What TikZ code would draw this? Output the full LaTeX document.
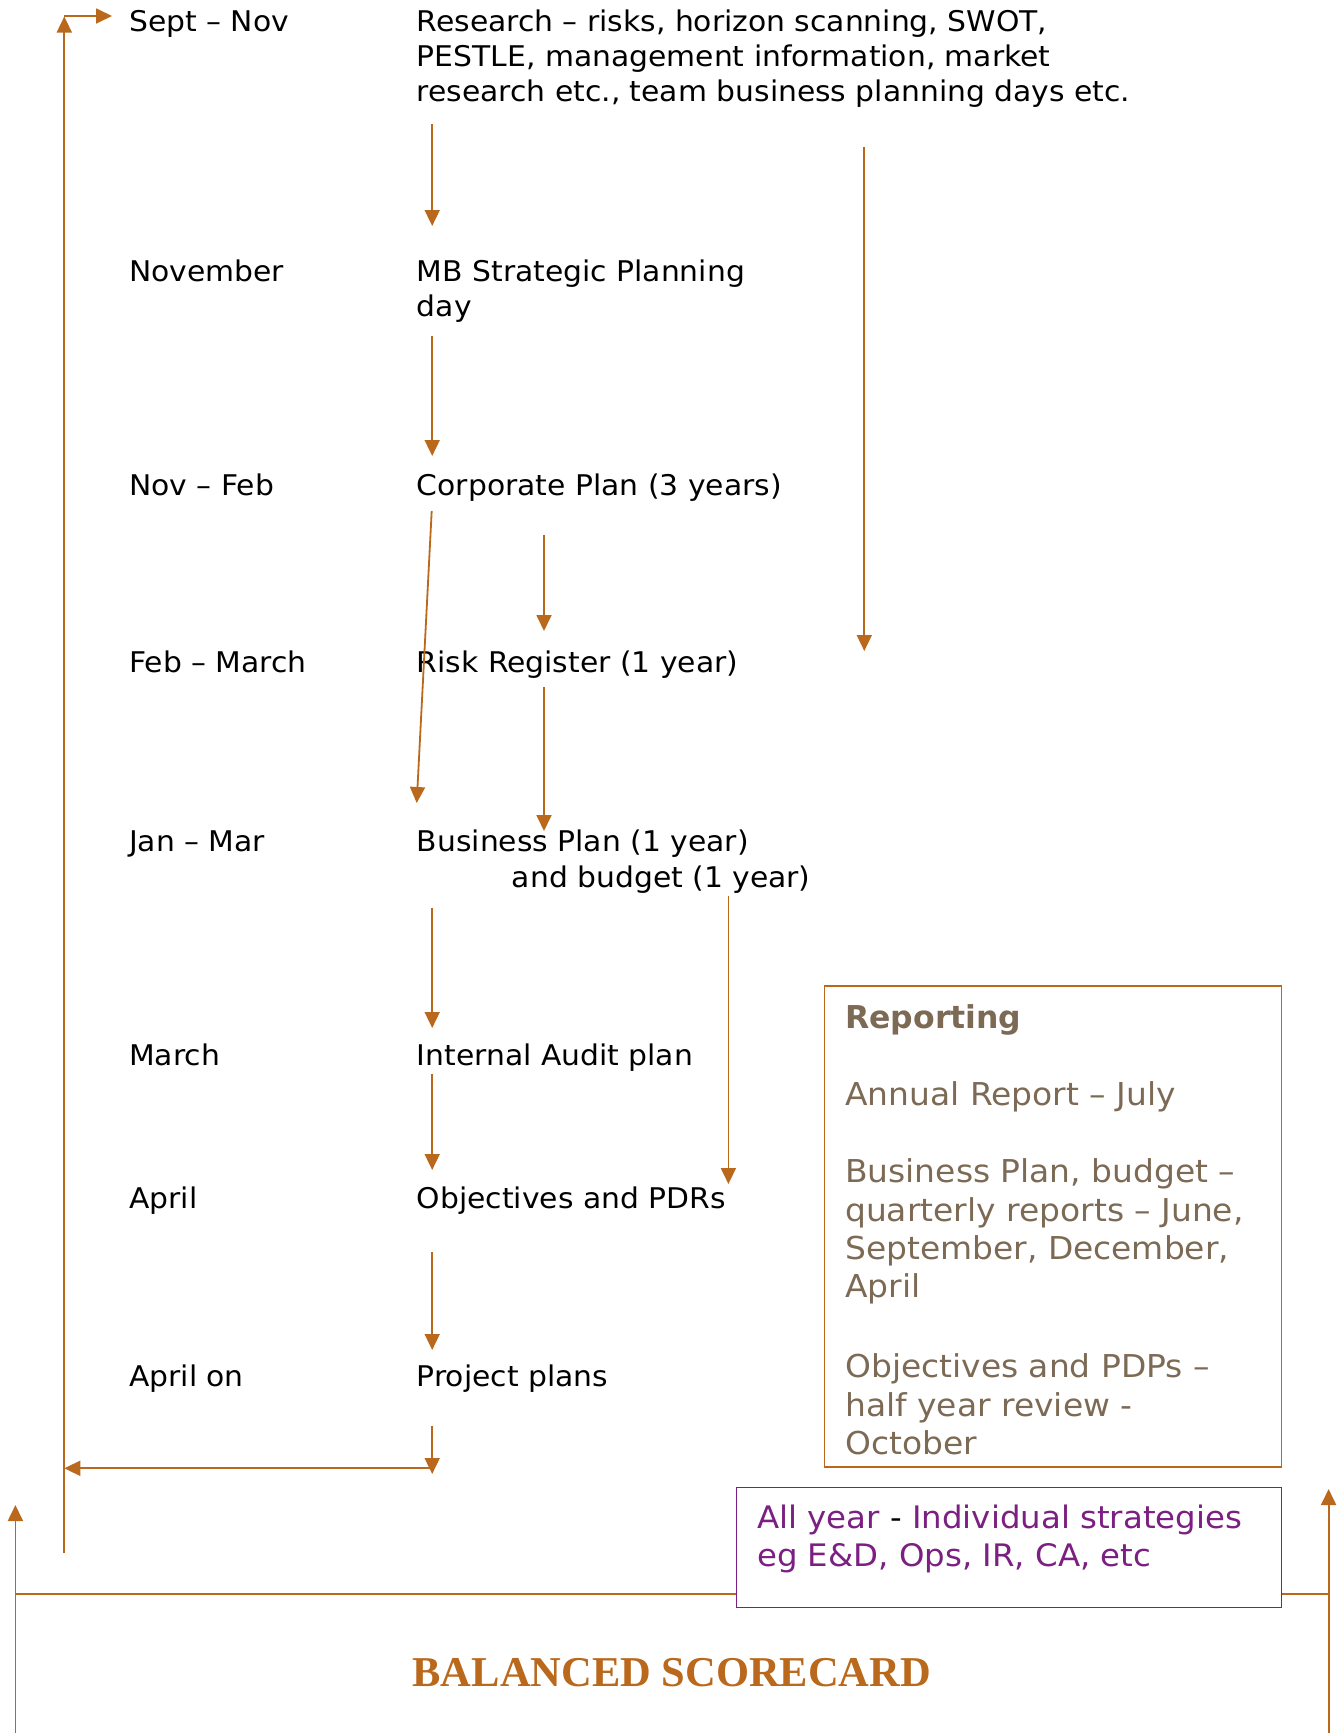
\documentclass[tikz,border=0pt]{standalone}
\usepackage{fontspec}
\setmainfont{DejaVu Sans}[FakeStretch=1.045]
\newfontfamily\plainsans{DejaVu Sans}
\newfontfamily\scfont{Liberation Serif}
\usetikzlibrary{arrows.meta}
\definecolor{ln}{RGB}{185,104,28}
\definecolor{rep}{RGB}{124,106,85}
\definecolor{purp}{RGB}{124,31,130}
\begin{document}
\begin{tikzpicture}[x=1pt,y=-1pt,
  conn/.style={draw=ln, line width=1.8pt, -{Triangle[length=16pt,width=15pt]}},
  plainln/.style={draw=ln, line width=1.8pt},
  lab/.style={anchor=base west, inner sep=0pt, font=\fontsize{28.5}{35}\selectfont},
  replab/.style={anchor=base west, inner sep=0pt, text=rep, font=\fontsize{31.5}{38.5}\selectfont},
  purlab/.style={anchor=base west, inner sep=0pt, text=purp, font=\fontsize{31}{38.5}\selectfont},
  repbox/.style={draw=ln, line width=1.7pt},
  purbox/.style={draw=purp, line width=1.7pt, fill=white}]
\useasboundingbox (0,0) rectangle (1344,1733);

% left column
\node[lab] (m1) at (129,31.6) {Sept – Nov};
\node[lab] (m2) at (129,281.4) {November};
\node[lab] (m3) at (129,495.8) {Nov – Feb};
\node[lab] (m4) at (129,672.7) {Feb – March};
\node[lab] (m5) at (129,851.7) {Jan – Mar};
\node[lab] (m6) at (129,1065) {March};
\node[lab] (m7) at (129,1208.7) {April};
\node[lab] (m8) at (129,1386.7) {April on};

% right column
\node[lab] (r1a) at (416.7,31.6) {Research – risks, horizon scanning, SWOT,};
\node[lab] (r1b) at (416.7,66.6) {PESTLE, management information, market};
\node[lab] (r1c) at (416.7,101.6) {research etc., team business planning days etc.};
\node[lab] (r2a) at (416.7,281.4) {MB Strategic Planning};
\node[lab] (r2b) at (416.7,316.4) {day};
\node[lab] (r3) at (416.7,495.8) {Corporate Plan (3 years)};
\node[lab] (r4) at (416.7,672.7) {Risk Register (1 year)};
\node[lab] (r5a) at (416.7,851.7) {Business Plan (1 year)};
\node[lab] (r5b) at (511.7,887) {and budget (1 year)};
\node[lab] (r6) at (416.7,1065) {Internal Audit plan};
\node[lab] (r7) at (416.7,1208.7) {Objectives and PDRs};
\node[lab] (r8) at (416.7,1386.7) {Project plans};

% arrow coordinates
\coordinate (a1s) at (432.2,124);
\coordinate (a1e) at (432.2,226);
\coordinate (a2s) at (432.2,336);
\coordinate (a2e) at (432.2,456);
\coordinate (a3s) at (431.7,511);
\coordinate (a3e) at (416.7,803);
\coordinate (a4s) at (544,535);
\coordinate (a4e) at (544,631);
\coordinate (a5s) at (544,687);
\coordinate (a5e) at (544,831);
\coordinate (a6s) at (864.3,147);
\coordinate (a6e) at (864.3,651);
\coordinate (a7s) at (432.2,907.5);
\coordinate (a7e) at (432.2,1028);
\coordinate (a8s) at (728.4,896.4);
\coordinate (a8e) at (728.4,1184);
\coordinate (a9s) at (432.2,1074.3);
\coordinate (a9e) at (432.2,1170);
\coordinate (a10s) at (432.2,1252.3);
\coordinate (a10e) at (432.2,1350);
\coordinate (a11s) at (432.2,1426);
\coordinate (a11e) at (432.2,1474);
\coordinate (hl) at (64.3,1468.3);
\coordinate (hr) at (432.2,1468.3);
\coordinate (lb) at (64.3,1553);
\coordinate (lt) at (64.3,16.5);
\coordinate (lti) at (64.3,16);
\coordinate (ltr) at (112,16);

\draw[conn] (a1s) -- (a1e);
\draw[conn] (a2s) -- (a2e);
\draw[conn] (a3s) -- (a3e);
\draw[conn] (a4s) -- (a4e);
\draw[conn] (a5s) -- (a5e);
\draw[conn] (a6s) -- (a6e);
\draw[conn] (a7s) -- (a7e);
\draw[conn] (a8s) -- (a8e);
\draw[conn] (a9s) -- (a9e);
\draw[conn] (a10s) -- (a10e);
\draw[conn] (a11s) -- (a11e);
\draw[conn] (hr) -- (hl);
\draw[conn] (lb) -- (lt);
\draw[conn] (lti) -- (ltr);

% reporting box
\node[repbox, anchor=north west, minimum width=457pt, minimum height=481pt, inner sep=0pt] (rep) at (823.5,985) {};
\begin{scope}
\clip (823.5,985) rectangle (1280.5,1456);
\node[replab, font=\plainsans\bfseries\fontsize{31.5}{38.5}\selectfont] (rp0) at (845,1028.3) {Reporting};
\node[replab] (rp1) at (845,1105.7) {Annual Report – July};
\node[replab] (rp2) at (845,1182.7) {Business Plan, budget –};
\node[replab] (rp3) at (845,1221) {quarterly reports – June,};
\node[replab] (rp4) at (845,1259.3) {September, December,};
\node[replab] (rp5) at (845,1297.6) {April};
\node[replab] (rp6) at (845,1377.7) {Objectives and PDPs –};
\node[replab] (rp7) at (845,1416) {half year review -};
\node[replab] (rp8) at (845,1454.3) {October};
\end{scope}

% bottom frame
\coordinate (bl0) at (15.4,1733);
\coordinate (bl1) at (15.4,1505);
\coordinate (br0) at (1328.6,1733);
\coordinate (br1) at (1328.6,1489);
\coordinate (hbl) at (15.4,1594);
\coordinate (hbr) at (1328.6,1594);
\draw[plainln] (hbl) -- (hbr);
\draw[conn] (bl0) -- (bl1);
\draw[conn] (br0) -- (br1);

% purple box
\node[purbox, anchor=north west, minimum width=545pt, minimum height=120pt, inner sep=0pt] (pur) at (735.5,1486.7) {};
\node[purlab] (pu1) at (757,1528) {All year {\color{black}-} Individual strategies};
\node[purlab] (pu2) at (757,1566.7) {eg E\&D, Ops, IR, CA, etc};

% balanced scorecard
\node[anchor=base, inner sep=0pt, text=ln, font=\scfont\bfseries\fontsize{42.5}{50}\selectfont] (bsc) at (671.8,1686.7) {BALANCED SCORECARD};
\end{tikzpicture}
\end{document}
